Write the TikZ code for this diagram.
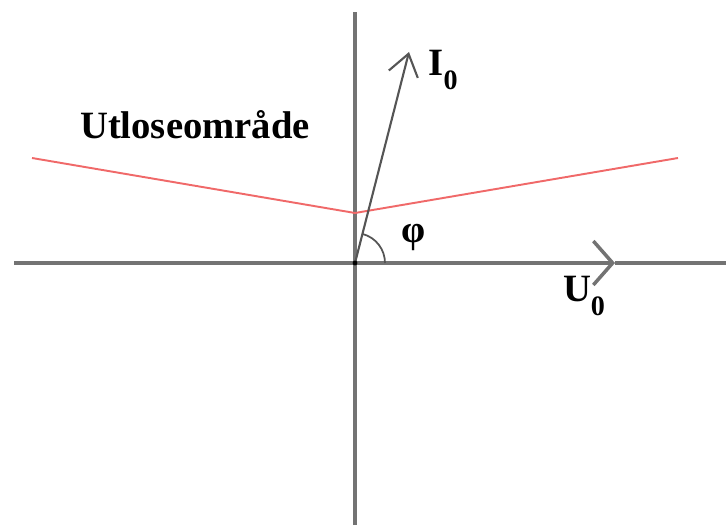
\documentclass[tikz,border=0pt]{standalone}
\usepackage{fontspec}
\setmainfont{Liberation Serif}
\usetikzlibrary{arrows.meta}
\definecolor{axisgray}{RGB}{115,115,115}
\definecolor{vecgray}{RGB}{85,85,85}
\definecolor{tripred}{RGB}{240,105,105}
\newcommand{\subnull}{\raisebox{-7.5pt}{\fontsize{16}{18}\selectfont 0}}

\begin{document}
\begin{tikzpicture}[x=0.02cm,y=0.02cm,
    axis/.style={draw=axisgray,line width=2pt},
    lbl/.style={font=\fontsize{22}{26}\selectfont\bfseries,inner sep=0pt}]
  \useasboundingbox (0,0) rectangle (726,525);
  % axes
  \coordinate (O) at (355,262);
  \coordinate (utop) at (355,513);
  \coordinate (ubot) at (355,0);
  \coordinate (uleft) at (14,262);
  \coordinate (utip) at (615,262);
  \coordinate (uright) at (726,262);
  \draw[axis] (ubot) -- (utop);
  \draw[axis,-{Straight Barb[length=11pt,width=25pt]}] (uleft) -- (utip);
  \draw[axis] (utip) -- (uright);
  % tripping zone
  \coordinate (rl) at (32,367);
  \coordinate (rm) at (355,312);
  \coordinate (rr) at (678,367);
  \draw[tripred,line width=1.1pt] (rl) -- (rm) -- (rr);
  % current vector
  \coordinate (itip) at (409,473);
  \draw[vecgray,line width=1.2pt,-{Straight Barb[length=12pt,width=17pt]}] (O) -- (itip);
  \draw[vecgray,line width=1pt] (O) ++(0:30) arc[start angle=0,end angle=75.5,radius=30];
  \fill (O) circle[radius=2.4];
  % labels
  \node[lbl] (zone) at (195,400) {Utloseområde};
  \node[lbl] (ilbl) at (443,455) {I\subnull};
  \node[lbl] (ulbl) at (584,229) {U\subnull};
  \node[lbl] (phi) at (414,288) {φ};
\end{tikzpicture}
\end{document}
